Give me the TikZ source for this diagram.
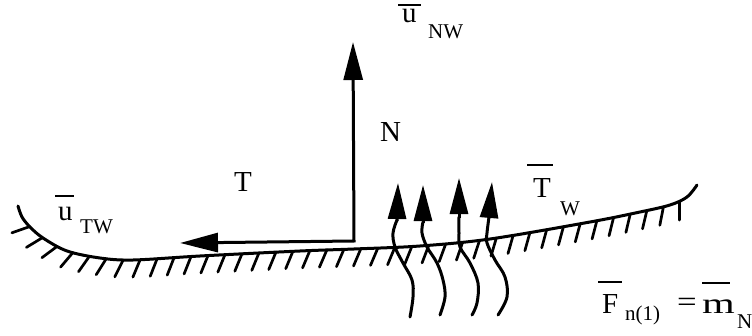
\documentclass[tikz,border=0pt]{standalone}
\usepackage{fontspec}
\setmainfont{Liberation Serif}
\usetikzlibrary{arrows.meta,decorations.markings}
\begin{document}
\begin{tikzpicture}[x=1pt,y=1pt,
  ink/.style={line width=3pt, line cap=round, line join=round},
  lbl/.style={inner sep=0pt, anchor=base west, font=\fontsize{29}{29}\selectfont},
  sub/.style={inner sep=0pt, anchor=base west, font=\fontsize{21}{21}\selectfont},
  bar/.style={line width=2.6pt},
  bigtip/.tip={Triangle[length=38pt,width=19pt]},
  smalltip/.tip={Triangle[length=36pt,width=18pt]},
  hatched/.style={postaction={decorate}, decoration={markings,
    mark=between positions 24pt and -8pt step 17pt with
      {\draw[line width=2.7pt, line cap=round] (0pt,0pt) -- (-8pt,-17pt);}}}
]
\useasboundingbox (0,0) rectangle (752,335);

% surface
\draw[ink, hatched] plot[smooth, tension=0.55] coordinates {(18,129) (22,118) (30,108) (43,97) (67,84) (100,77) (133,75) (200,79) (300,84) (354,86) (420,89) (490,96) (590,113) (640,123) (670,130) (687,138) (697,150)};

% main vectors
\coordinate (O) at (354,94);
\coordinate (Ntip) at (353,293);
\coordinate (Ttip) at (180,92);
\draw[ink, line cap=butt, line join=miter, {bigtip}-{bigtip}] (Ttip) -- (O) -- (Ntip);

% curved arrows
\draw[ink] plot[smooth, tension=0.6] coordinates {(410,18) (413,38) (412,55) (403,72) (395,88) (393,102) (397,115)};
\draw[ink, line cap=butt, -{smalltip}] (397,114) -- (398,152);
\draw[ink] plot[smooth, tension=0.6] coordinates {(440,20) (445,38) (443,55) (437,72) (427,88) (422,102) (423,113)};
\draw[ink, line cap=butt, -{smalltip}] (423,112) -- (423,150);
\draw[ink] plot[smooth, tension=0.6] coordinates {(472,20) (477,32) (478,52) (470,72) (460,88) (459,102) (459,118)};
\draw[ink, line cap=butt, -{smalltip}] (459,117) -- (459,157);
\draw[ink] plot[smooth, tension=0.6] coordinates {(498,20) (507,38) (505,58) (495,75) (487,92) (487,102) (489,118)};
\draw[ink, line cap=butt, -{smalltip}] (489,117) -- (492,153);

% labels
\node[lbl] (T) at (234,143) {T};
\node[lbl] (N) at (380,193) {N};
\node[lbl, text height=14pt] (uNW) at (402,312) {u};
\node[sub] (uNWs) at (428,296) {NW};
\node[lbl] (uTW) at (58,115) {u};
\node[sub] (uTWs) at (80,102) {TW};
\node[lbl] (TW) at (533,137) {T};
\node[sub] (TWs) at (560,120) {W};
\node[lbl] (F) at (602,22) {F};
\node[sub] (Fs) at (625,15) {n(1)};
\node[lbl] (eq) at (677,24) {\scalebox{1.2}[1]{=}};
\node[lbl] (m) at (702,22) {\scalebox{1.45}[1]{m}};
\node[sub] (mN) at (737,7) {N};

% overbars
\draw[bar] (398,330) -- (421,330);
\draw[bar] (55,139) -- (74,139);
\draw[bar] (527,170) -- (553,170);
\draw[bar] (598,53) -- (622,53);
\draw[bar] (702,52) -- (730,52);
\end{tikzpicture}
\end{document}
